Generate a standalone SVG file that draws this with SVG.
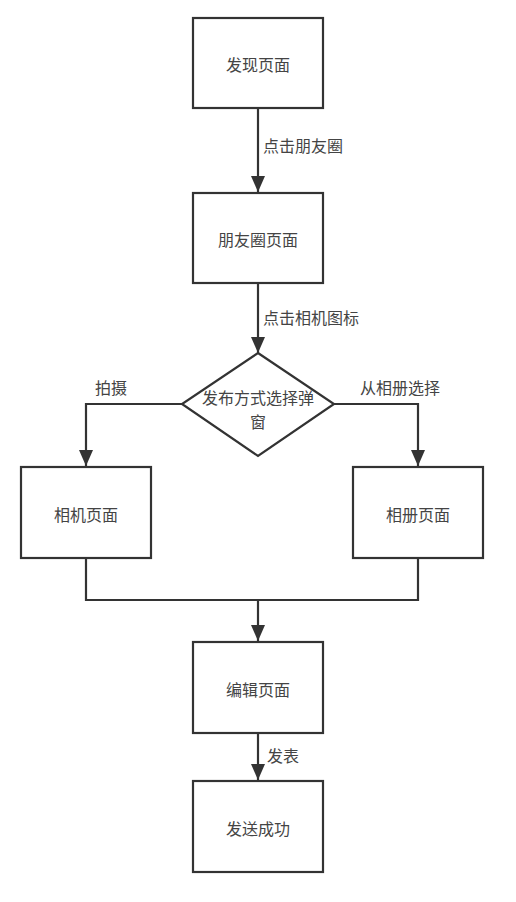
<svg xmlns="http://www.w3.org/2000/svg" width="516" height="902" viewBox="0 0 516 902">
<style>
.box{fill:#fff;stroke:#333;stroke-width:2.2}
.ln{fill:none;stroke:#333;stroke-width:2.2}
text{font-family:"Noto Sans CJK SC","Liberation Sans",sans-serif;font-size:16px;fill:#444;text-anchor:middle;dominant-baseline:central}
.lbl{text-anchor:start}
</style>
<defs>
<marker id="ah" markerUnits="userSpaceOnUse" markerWidth="16" markerHeight="22" viewBox="0 0 16 22" refX="16" refY="8" orient="auto">
<path d="M0,1 L16,8 L0,15 Z" fill="#333"/>
</marker>
</defs>
<rect width="516" height="902" fill="#fff"/>
<g id="connectors">
<path class="ln" d="M258,108 V192" marker-end="url(#ah)"/>
<path class="ln" d="M258,283 V353" marker-end="url(#ah)"/>
<path class="ln" d="M182,404 H86 V466" marker-end="url(#ah)"/>
<path class="ln" d="M334,404 H418 V466" marker-end="url(#ah)"/>
<path class="ln" d="M86,558 V600 H418 V558"/>
<path class="ln" d="M258,600 V641" marker-end="url(#ah)"/>
<path class="ln" d="M258,733 V780" marker-end="url(#ah)"/>
<text class="lbl" x="263" y="145">点击朋友圈</text>
<text class="lbl" x="263" y="317">点击相机图标</text>
<text x="111" y="387">拍摄</text>
<text x="400" y="387">从相册选择</text>
<text class="lbl" x="267" y="755">发表</text>
</g>
<g id="n1"><rect class="box" x="193" y="18" width="130" height="90"/><text x="258" y="64">发现页面</text></g>
<g id="n2"><rect class="box" x="193" y="193" width="130" height="90"/><text x="258" y="239">朋友圈页面</text></g>
<g id="n3"><path class="box" d="M258,353 L334,404 L258,456 L182,404 Z"/><text x="258" y="397">发布方式选择弹</text><text x="258" y="421">窗</text></g>
<g id="n4"><rect class="box" x="21" y="467" width="130" height="91"/><text x="86" y="514">相机页面</text></g>
<g id="n5"><rect class="box" x="353" y="467" width="130" height="91"/><text x="418" y="514">相册页面</text></g>
<g id="n6"><rect class="box" x="193" y="642" width="130" height="91"/><text x="258" y="689">编辑页面</text></g>
<g id="n7"><rect class="box" x="193" y="781" width="130" height="91"/><text x="258" y="828">发送成功</text></g>
</svg>
